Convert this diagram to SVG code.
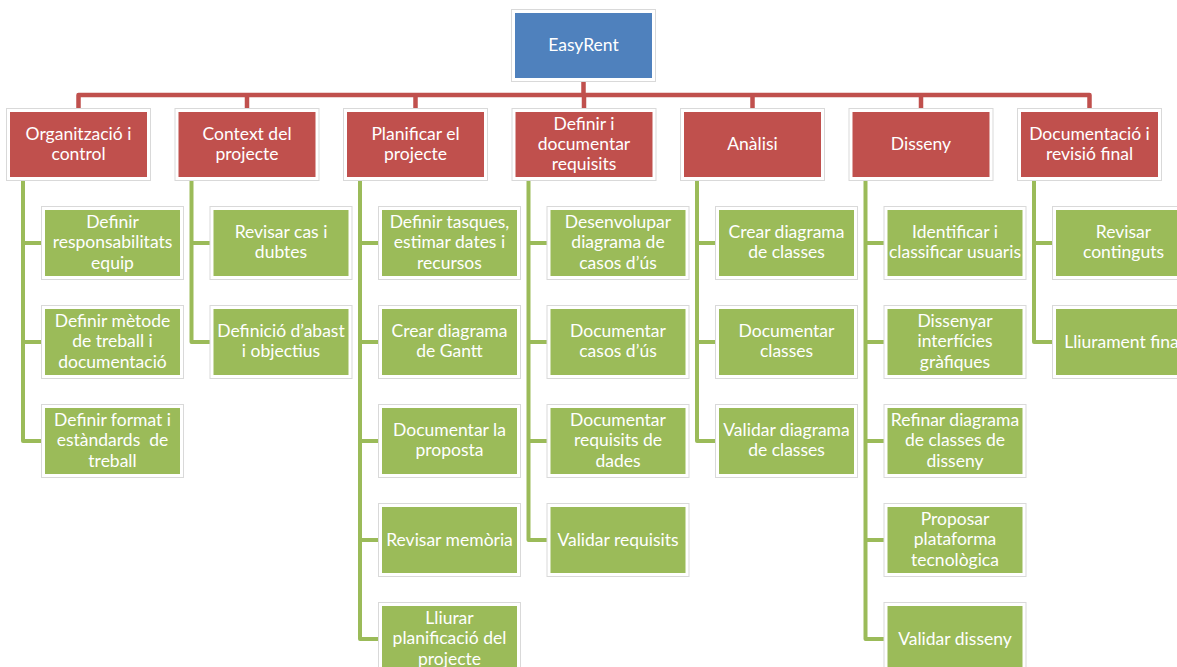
<svg xmlns="http://www.w3.org/2000/svg" width="1177" height="667" viewBox="0 0 1177 667">
<style>
.o{fill:#fff;stroke:#d9d9d9;stroke-width:1}
.root{fill:#4F81BD}
.ph{fill:#C0504D}
.tk{fill:#9BBB59}
text{font-family:Lato,"Liberation Sans",sans-serif;font-size:17.5px;fill:#fff;text-anchor:middle}
.bus{stroke:#C0504D;stroke-width:4.5;fill:none;stroke-linejoin:round}
.br{stroke:#9BBB59;stroke-width:4;fill:none;stroke-linejoin:round}
</style>
<rect width="1177" height="667" fill="#fff"/>
<g id="connectors">
<path class="bus" d="M583.5,80 V95 M78.5,110 V95 H1089.5 V110 M247,95 V110 M415.5,95 V110 M584,95 V110 M752.5,95 V110 M921,95 V110"/>
<path class="br" d="M23,180 V441 H45 M23,243 H45 M23,342 H45"/>
<path class="br" d="M191.5,180 V342 H213.5 M191.5,243 H213.5"/>
<path class="br" d="M360,180 V639 H382 M360,243 H382 M360,342 H382 M360,441 H382 M360,540 H382"/>
<path class="br" d="M528.5,180 V540 H550.5 M528.5,243 H550.5 M528.5,342 H550.5 M528.5,441 H550.5"/>
<path class="br" d="M697,180 V441 H719 M697,243 H719 M697,342 H719"/>
<path class="br" d="M865.5,180 V639 H887.5 M865.5,243 H887.5 M865.5,342 H887.5 M865.5,441 H887.5 M865.5,540 H887.5"/>
<path class="br" d="M1034,180 V342 H1056 M1034,243 H1056"/>
</g>
<g id="root">
<rect class="o" x="511.5" y="9.5" width="144" height="72"/>
<rect class="root" x="515" y="13" width="137" height="65"/>
<text x="583.5" y="51">EasyRent</text>
</g>
<g id="p0">
<rect class="o" x="6.5" y="108.5" width="144" height="72"/>
<rect class="ph" x="10" y="112" width="137" height="65"/>
<text><tspan x="78.5" y="139.5">Organització i</tspan><tspan x="78.5" y="159.5">control</tspan></text>
</g>
<g id="p1">
<rect class="o" x="175" y="108.5" width="144" height="72"/>
<rect class="ph" x="178.5" y="112" width="137" height="65"/>
<text><tspan x="247" y="139.5">Context del</tspan><tspan x="247" y="159.5">projecte</tspan></text>
</g>
<g id="p2">
<rect class="o" x="343.5" y="108.5" width="144" height="72"/>
<rect class="ph" x="347" y="112" width="137" height="65"/>
<text><tspan x="415.5" y="139.5">Planificar el</tspan><tspan x="415.5" y="159.5">projecte</tspan></text>
</g>
<g id="p3">
<rect class="o" x="512" y="108.5" width="144" height="72"/>
<rect class="ph" x="515.5" y="112" width="137" height="65"/>
<text><tspan x="584" y="129.5">Definir i</tspan><tspan x="584" y="149.5">documentar</tspan><tspan x="584" y="169.5">requisits</tspan></text>
</g>
<g id="p4">
<rect class="o" x="680.5" y="108.5" width="144" height="72"/>
<rect class="ph" x="684" y="112" width="137" height="65"/>
<text x="752.5" y="150">Anàlisi</text>
</g>
<g id="p5">
<rect class="o" x="849" y="108.5" width="144" height="72"/>
<rect class="ph" x="852.5" y="112" width="137" height="65"/>
<text x="921" y="150">Disseny</text>
</g>
<g id="p6">
<rect class="o" x="1017.5" y="108.5" width="144" height="72"/>
<rect class="ph" x="1021" y="112" width="137" height="65"/>
<text><tspan x="1089.5" y="139.5">Documentació i</tspan><tspan x="1089.5" y="159.5">revisió final</tspan></text>
</g>

<g id="t0-0"><rect class="o" x="41.5" y="206.5" width="142" height="73"/><rect class="tk" x="45" y="210" width="135" height="66"/>
<text><tspan x="112.5" y="227.5">Definir</tspan><tspan x="112.5" y="248">responsabilitats</tspan><tspan x="112.5" y="268.5">equip</tspan></text></g>
<g id="t0-1"><rect class="o" x="41.5" y="305.5" width="142" height="73"/><rect class="tk" x="45" y="309" width="135" height="66"/>
<text><tspan x="112.5" y="326.5">Definir mètode</tspan><tspan x="112.5" y="347">de treball i</tspan><tspan x="112.5" y="367.5">documentació</tspan></text></g>
<g id="t0-2"><rect class="o" x="41.5" y="404.5" width="142" height="73"/><rect class="tk" x="45" y="408" width="135" height="66"/>
<text><tspan x="112.5" y="425.5">Definir format i</tspan><tspan x="112.5" y="446" xml:space="preserve">estàndards  de</tspan><tspan x="112.5" y="466.5">treball</tspan></text></g>

<g id="t1-0"><rect class="o" x="210" y="206.5" width="142" height="73"/><rect class="tk" x="213.5" y="210" width="135" height="66"/>
<text><tspan x="281" y="237.75">Revisar cas i</tspan><tspan x="281" y="258.25">dubtes</tspan></text></g>
<g id="t1-1"><rect class="o" x="210" y="305.5" width="142" height="73"/><rect class="tk" x="213.5" y="309" width="135" height="66"/>
<text><tspan x="281" y="336.75">Definició d’abast</tspan><tspan x="281" y="357.25">i objectius</tspan></text></g>

<g id="t2-0"><rect class="o" x="378.5" y="206.5" width="142" height="73"/><rect class="tk" x="382" y="210" width="135" height="66"/>
<text><tspan x="449.5" y="227.5">Definir tasques,</tspan><tspan x="449.5" y="248">estimar dates i</tspan><tspan x="449.5" y="268.5">recursos</tspan></text></g>
<g id="t2-1"><rect class="o" x="378.5" y="305.5" width="142" height="73"/><rect class="tk" x="382" y="309" width="135" height="66"/>
<text><tspan x="449.5" y="336.75">Crear diagrama</tspan><tspan x="449.5" y="357.25">de Gantt</tspan></text></g>
<g id="t2-2"><rect class="o" x="378.5" y="404.5" width="142" height="73"/><rect class="tk" x="382" y="408" width="135" height="66"/>
<text><tspan x="449.5" y="435.75">Documentar la</tspan><tspan x="449.5" y="456.25">proposta</tspan></text></g>
<g id="t2-3"><rect class="o" x="378.5" y="503.5" width="142" height="73"/><rect class="tk" x="382" y="507" width="135" height="66"/>
<text x="449.5" y="545.5">Revisar memòria</text></g>
<g id="t2-4"><rect class="o" x="378.5" y="602.5" width="142" height="73"/><rect class="tk" x="382" y="606" width="135" height="66"/>
<text><tspan x="449.5" y="623.5">Lliurar</tspan><tspan x="449.5" y="644">planificació del</tspan><tspan x="449.5" y="664.5">projecte</tspan></text></g>

<g id="t3-0"><rect class="o" x="547" y="206.5" width="142" height="73"/><rect class="tk" x="550.5" y="210" width="135" height="66"/>
<text><tspan x="618" y="227.5">Desenvolupar</tspan><tspan x="618" y="248">diagrama de</tspan><tspan x="618" y="268.5">casos d’ús</tspan></text></g>
<g id="t3-1"><rect class="o" x="547" y="305.5" width="142" height="73"/><rect class="tk" x="550.5" y="309" width="135" height="66"/>
<text><tspan x="618" y="336.75">Documentar</tspan><tspan x="618" y="357.25">casos d’ús</tspan></text></g>
<g id="t3-2"><rect class="o" x="547" y="404.5" width="142" height="73"/><rect class="tk" x="550.5" y="408" width="135" height="66"/>
<text><tspan x="618" y="425.5">Documentar</tspan><tspan x="618" y="446">requisits de</tspan><tspan x="618" y="466.5">dades</tspan></text></g>
<g id="t3-3"><rect class="o" x="547" y="503.5" width="142" height="73"/><rect class="tk" x="550.5" y="507" width="135" height="66"/>
<text x="618" y="545.5">Validar requisits</text></g>

<g id="t4-0"><rect class="o" x="715.5" y="206.5" width="142" height="73"/><rect class="tk" x="719" y="210" width="135" height="66"/>
<text><tspan x="786.5" y="237.75">Crear diagrama</tspan><tspan x="786.5" y="258.25">de classes</tspan></text></g>
<g id="t4-1"><rect class="o" x="715.5" y="305.5" width="142" height="73"/><rect class="tk" x="719" y="309" width="135" height="66"/>
<text><tspan x="786.5" y="336.75">Documentar</tspan><tspan x="786.5" y="357.25">classes</tspan></text></g>
<g id="t4-2"><rect class="o" x="715.5" y="404.5" width="142" height="73"/><rect class="tk" x="719" y="408" width="135" height="66"/>
<text><tspan x="786.5" y="435.75">Validar diagrama</tspan><tspan x="786.5" y="456.25">de classes</tspan></text></g>

<g id="t5-0"><rect class="o" x="884" y="206.5" width="142" height="73"/><rect class="tk" x="887.5" y="210" width="135" height="66"/>
<text><tspan x="955" y="237.75">Identificar i</tspan><tspan x="955" y="258.25">classificar usuaris</tspan></text></g>
<g id="t5-1"><rect class="o" x="884" y="305.5" width="142" height="73"/><rect class="tk" x="887.5" y="309" width="135" height="66"/>
<text><tspan x="955" y="326.5">Dissenyar</tspan><tspan x="955" y="347">interfícies</tspan><tspan x="955" y="367.5">gràfiques</tspan></text></g>
<g id="t5-2"><rect class="o" x="884" y="404.5" width="142" height="73"/><rect class="tk" x="887.5" y="408" width="135" height="66"/>
<text><tspan x="955" y="425.5">Refinar diagrama</tspan><tspan x="955" y="446">de classes de</tspan><tspan x="955" y="466.5">disseny</tspan></text></g>
<g id="t5-3"><rect class="o" x="884" y="503.5" width="142" height="73"/><rect class="tk" x="887.5" y="507" width="135" height="66"/>
<text><tspan x="955" y="524.5">Proposar</tspan><tspan x="955" y="545">plataforma</tspan><tspan x="955" y="565.5">tecnològica</tspan></text></g>
<g id="t5-4"><rect class="o" x="884" y="602.5" width="142" height="73"/><rect class="tk" x="887.5" y="606" width="135" height="66"/>
<text x="955" y="644.5">Validar disseny</text></g>

<g id="t6-0"><rect class="o" x="1052.5" y="206.5" width="142" height="73"/><rect class="tk" x="1056" y="210" width="135" height="66"/>
<text><tspan x="1123.5" y="237.75">Revisar</tspan><tspan x="1123.5" y="258.25">continguts</tspan></text></g>
<g id="t6-1"><rect class="o" x="1052.5" y="305.5" width="142" height="73"/><rect class="tk" x="1056" y="309" width="135" height="66"/>
<text x="1123.5" y="347.5">Lliurament final</text></g>
</svg>
